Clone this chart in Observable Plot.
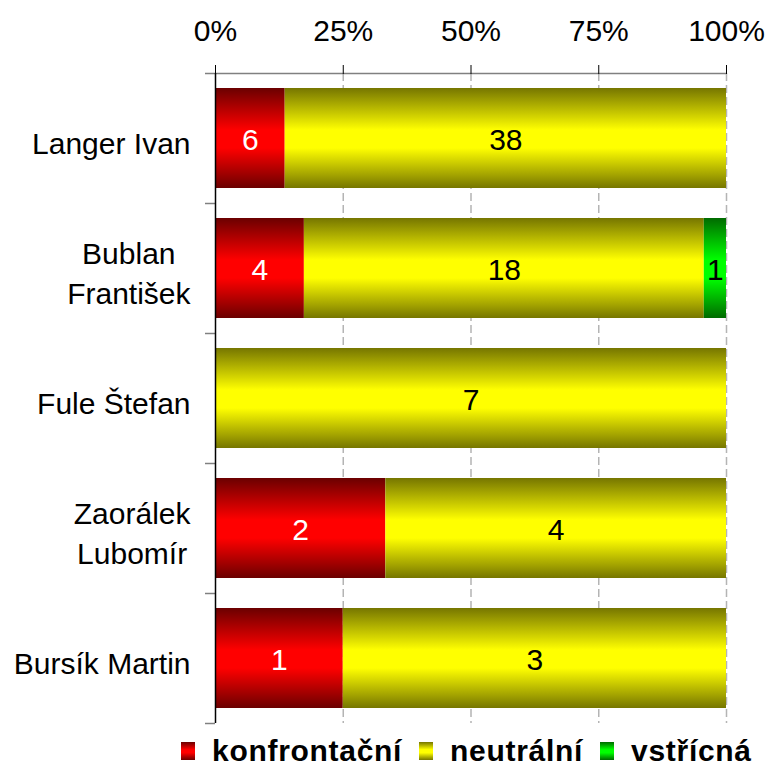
<!DOCTYPE html>
<html>
<head>
<meta charset="utf-8">
<script src="https://cdn.jsdelivr.net/npm/d3@7"></script>
<script src="https://cdn.jsdelivr.net/npm/@observablehq/plot@0.6"></script>
<style>
  html, body { margin: 0; padding: 0; background: #fff; }
  #chart svg { display: block; }
  #legend { display: flex; align-items: center; box-sizing: border-box; height: 37px; padding-top: 4px;
            line-height: 33px; padding-left: 181px;
            font: bold 30px "Liberation Sans", Arial, sans-serif; letter-spacing: 0.7px; color: #000; }
  #legend .sw { width: 14px; height: 18px; margin-right: 17px; flex: none; }
  #legend .lab { margin-right: 17px; white-space: nowrap; }
</style>
</head>
<body>
<div id="chart"></div>
<div id="legend"></div>
<script>
// ---- data ----
const names = ["Langer Ivan", "Bublan\nFrantišek", "Fule Štefan", "Zaorálek\nLubomír", "Bursík Martin"];
const categories = ["konfrontační", "neutrální", "vstřícná"];
const konfrontacni = [6, 4, 0, 2, 1];
const neutralni = [38, 18, 7, 4, 3];
const vstricna = [0, 1, 0, 0, 0];
const xTicks = [0, 0.25, 0.5, 0.75, 1];

// ---- styles ----
const gradIds = {"konfrontační": "g-red", "neutrální": "g-yel", "vstřícná": "g-grn"};
const gradColors = {
  "g-red": ["#6b0000", "#ff0000"],
  "g-yel": ["#767600", "#ffff00"],
  "g-grn": ["#006b00", "#00ff00"]
};
const textColor = {"konfrontační": "white", "neutrální": "black", "vstřícná": "black"};

const seriesValues = [konfrontacni, neutralni, vstricna];
const data = [];
names.forEach((n, i) => categories.forEach((c, j) => {
  const v = seriesValues[j][i];
  if (v > 0) data.push({name: n, cat: c, value: v});
}));

const W = 771, H = 730;
const mL = 215, mR = 45, mT = 73, mB = 7;
const plotW = W - mL - mR;
const nBands = names.length;
const step = (H - mT - mB) / nBands;
const font = '"Liberation Sans", Arial, sans-serif';

// measure label widths for centred multi-line labels whose right edge sits 25px left of the axis
const ctx = document.createElement("canvas").getContext("2d");
ctx.font = `30px ${font}`;
const labelGap = 25;
const labelX = names.map(n => {
  const w = d3.max(n.split("\n"), s => ctx.measureText(s).width);
  return -(labelGap + w / 2) / plotW;
});
const tickLen = 10 / plotW;

const svg = Plot.plot({
  width: W, height: H,
  marginLeft: mL, marginRight: mR, marginTop: mT, marginBottom: mB,
  style: {fontFamily: font, fontSize: "30px", color: "black", background: "white", overflow: "visible"},
  x: {domain: [0, 1], axis: null},
  y: {domain: names, paddingInner: 30 / 130, paddingOuter: 15 / 130, axis: null},
  color: {type: "identity"},
  marks: [
    Plot.ruleX(xTicks.slice(1), {stroke: "#b4b4b4", strokeDasharray: "8,4", strokeWidth: 1.5}),
    Plot.barX(data, Plot.stackX({
      x: "value", y: "name", z: "cat", offset: "normalize",
      fill: d => `url(#${gradIds[d.cat]})`
    })),
    Plot.text(data, Plot.stackX({
      x: "value", y: "name", z: "cat", offset: "normalize",
      text: "value", fill: d => textColor[d.cat], fontSize: 30, dy: 2
    })),
    // top axis line (gray) including the first y tick
    Plot.ruleY([names[0]], {dy: -step / 2, x1: -tickLen, x2: 1, stroke: "#808080", strokeWidth: 1.5}),
    // y ticks at band boundaries
    Plot.ruleY(names.slice(1), {dy: -step / 2, x1: -tickLen, x2: 0, stroke: "#808080", strokeWidth: 1.5}),
    Plot.ruleY([names[names.length - 1]], {dy: step / 2, x1: -tickLen, x2: 0, stroke: "#808080", strokeWidth: 1.5}),
    // left axis line
    Plot.ruleX([0], {stroke: "black", strokeWidth: 1.5}),
    Plot.axisX({
      anchor: "top", ticks: xTicks, tickFormat: d3.format(".0%"), label: null,
      tickSize: 9, tickPadding: 24, fontSize: 30, stroke: "black"
    }),
    Plot.text(names, {
      x: (d, i) => labelX[i], y: d => d, text: d => d,
      textAnchor: "middle", lineHeight: 1.33, fontSize: 30, dy: 3, fill: "black"
    })
  ]
});

const defs = Object.entries(gradColors).map(([id, [dark, bright]]) =>
  `<linearGradient id="${id}" x1="0" y1="0" x2="0" y2="1">
     <stop offset="0" stop-color="${dark}"/>
     <stop offset="0.42" stop-color="${bright}"/>
     <stop offset="0.6" stop-color="${bright}"/>
     <stop offset="1" stop-color="${dark}"/>
   </linearGradient>`).join("");
svg.insertAdjacentHTML("afterbegin", `<defs>${defs}</defs>`);
document.getElementById("chart").appendChild(svg);

// legend
const legend = document.getElementById("legend");
categories.forEach(c => {
  const [dark, bright] = gradColors[gradIds[c]];
  const sw = document.createElement("span");
  sw.className = "sw";
  sw.style.background = `linear-gradient(to bottom, ${dark} 0%, ${bright} 42%, ${bright} 60%, ${dark} 100%)`;
  const lab = document.createElement("span");
  lab.className = "lab";
  lab.textContent = c;
  legend.appendChild(sw);
  legend.appendChild(lab);
});
</script>
</body>
</html>
